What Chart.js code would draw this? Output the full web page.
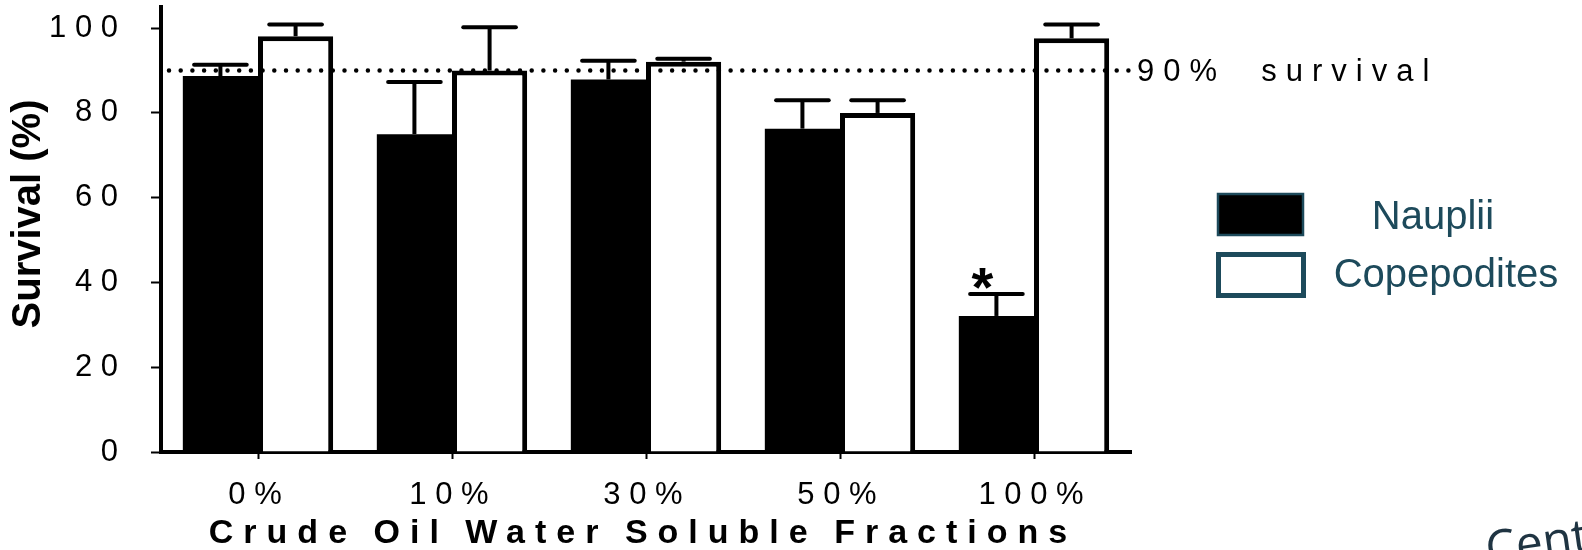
<!DOCTYPE html>
<html>
<head>
<meta charset="utf-8">
<script src="https://cdn.jsdelivr.net/npm/chart.js@4.4.0/dist/chart.umd.min.js"></script>
<style>
  html, body { margin: 0; padding: 0; background: #fff; }
  #wrap { width: 1582px; height: 550px; position: relative; }
</style>
</head>
<body>
<div id="wrap"><canvas id="chart"></canvas></div>
<script>
// ===== DATA =====
const categories = ['0 %', '1 0 %', '3 0 %', '5 0 %', '1 0 0 %'];
const nauplii = [88.7, 75, 87.9, 76.3, 32.1];
const naupliiErr = [2.7, 12.3, 4.4, 6.7, 5.2];
const copepodites = [98.1, 90, 92.1, 80, 97.6];
const copepoditesErr = [2.8, 10.2, 0.7, 3, 3.3];
const naupliiSignificant = [false, false, false, false, true];
const yTicks = [0, 20, 40, 60, 80, 100];
const yTickLabels = ['0', '2 0', '4 0', '6 0', '8 0', '1 0 0'];
const survivalLine = 90;

const FONT = '"Liberation Sans", Arial, Helvetica, sans-serif';
const legendTeal = '#1d4a5b';

// ===== ERROR BARS, 90% LINE, ASTERISK =====
const errorBars = {
  id: 'errorBars',
  afterDatasetsDraw(chart) {
    const ctx = chart.ctx;
    const y = chart.scales.y;
    const errs = [naupliiErr, copepoditesErr];
    ctx.save();
    ctx.strokeStyle = '#000';
    ctx.lineWidth = 4;
    chart.data.datasets.forEach((ds, i) => {
      chart.getDatasetMeta(i).data.forEach((bar, j) => {
        const top = y.getPixelForValue(ds.data[j] + errs[i][j]);
        const half = bar.width * 0.35;
        ctx.lineCap = 'butt';
        ctx.beginPath();
        ctx.moveTo(bar.x, bar.y);
        ctx.lineTo(bar.x, top);
        ctx.stroke();
        ctx.lineCap = 'round';
        ctx.beginPath();
        ctx.moveTo(bar.x - half, top);
        ctx.lineTo(bar.x + half, top);
        ctx.stroke();
      });
    });

    // dotted 90% survival line
    const ly = y.getPixelForValue(survivalLine);
    ctx.setLineDash([0, 11.7]);
    ctx.lineCap = 'round';
    ctx.lineWidth = 4.5;
    ctx.beginPath();
    ctx.moveTo(chart.chartArea.left + 8, ly);
    ctx.lineTo(chart.chartArea.right + 5, ly);
    ctx.stroke();
    ctx.setLineDash([]);

    // significance marks
    const meta = chart.getDatasetMeta(0);
    ctx.fillStyle = '#000';
    ctx.font = 'bold 56px ' + FONT;
    ctx.textAlign = 'center';
    ctx.textBaseline = 'middle';
    naupliiSignificant.forEach((s, j) => {
      if (!s) return;
      const bar = meta.data[j];
      const top = y.getPixelForValue(nauplii[j] + naupliiErr[j]);
      ctx.fillText('*', bar.x - 14, top - 3);
    });
    ctx.restore();
  }
};

// ===== TITLES, LABEL, LEGEND =====
const annotations = {
  id: 'annotations',
  afterDraw(chart) {
    const ctx = chart.ctx;
    ctx.save();
    ctx.fillStyle = '#000';

    // y title
    ctx.save();
    ctx.translate(29, 214);
    ctx.rotate(-Math.PI / 2);
    ctx.font = 'bold 40px ' + FONT;
    ctx.textAlign = 'center';
    ctx.textBaseline = 'middle';
    ctx.fillText('Survival (%)', 0, 0);
    ctx.restore();

    // x title
    ctx.font = 'bold 34px ' + FONT;
    ctx.letterSpacing = '10px';
    ctx.wordSpacing = '-3px';
    ctx.textAlign = 'center';
    ctx.textBaseline = 'middle';
    ctx.fillText('Crude Oil Water Soluble Fractions', 643, 534);

    // 90% survival label
    ctx.font = '31px ' + FONT;
    ctx.letterSpacing = '9px';
    ctx.wordSpacing = '0px';
    ctx.textAlign = 'left';
    ctx.fillText('90%  survival', 1137, 72);
    ctx.letterSpacing = '0px';

    // legend
    const items = chart.data.datasets;
    ctx.lineWidth = 2.5;
    ctx.strokeStyle = legendTeal;
    ctx.fillStyle = items[0].backgroundColor;
    ctx.fillRect(1218, 194, 85, 41);
    ctx.strokeRect(1218, 194, 85, 41);
    ctx.lineWidth = 5;
    ctx.fillStyle = items[1].backgroundColor;
    ctx.fillRect(1218.5, 254.5, 85, 41);
    ctx.strokeRect(1218.5, 254.5, 85, 41);

    ctx.fillStyle = legendTeal;
    ctx.font = '40px ' + FONT;
    ctx.textAlign = 'center';
    ctx.textBaseline = 'alphabetic';
    ctx.fillText(items[0].label, 1433, 229);
    ctx.fillText(items[1].label, 1446, 287);

    // cut-off caption fragment at the corner
    ctx.save();
    ctx.translate(1488, 566);
    ctx.rotate(-0.14);
    ctx.font = '48px "Open Sans", sans-serif';
    ctx.fillStyle = '#1f3442';
    ctx.textAlign = 'left';
    ctx.textBaseline = 'alphabetic';
    ctx.fillText('Centre', 0, 0);
    ctx.restore();

    ctx.restore();
  }
};

// ===== CHART =====
new Chart(document.getElementById('chart'), {
  type: 'bar',
  data: {
    labels: categories,
    datasets: [
      { label: 'Nauplii', data: nauplii, backgroundColor: '#000', borderColor: '#000', borderWidth: 0 },
      { label: 'Copepodites', data: copepodites, backgroundColor: '#fff', borderColor: '#000', borderWidth: 5 }
    ]
  },
  options: {
    responsive: true,
    maintainAspectRatio: false,
    animation: false,
    events: [],
    layout: { padding: { top: 7, right: 451, left: 0, bottom: 0 } },
    datasets: { bar: { categoryPercentage: 0.775, barPercentage: 1 } },
    plugins: { legend: { display: false }, tooltip: { enabled: false } },
    scales: {
      x: {
        z: 1,
        grid: { display: true, offset: false, drawOnChartArea: false, drawTicks: true, tickLength: 7, tickWidth: 2, tickColor: '#000' },
        border: { display: true, width: 4, color: '#000' },
        ticks: { color: '#000', font: { family: FONT, size: 31 }, padding: 18, labelOffset: -3, maxRotation: 0, autoSkip: false },
        afterFit: s => { s.height = 98; s.paddingLeft = 0; s.paddingRight = 0; }
      },
      y: {
        z: 1,
        min: 0,
        max: 105,
        afterBuildTicks: s => { s.ticks = yTicks.map(v => ({ value: v })); },
        grid: { display: true, drawOnChartArea: false, drawTicks: true, tickLength: 10, tickWidth: 2, tickColor: '#000' },
        border: { display: true, width: 4, color: '#000' },
        ticks: { color: '#000', font: { family: FONT, size: 31 }, padding: 33, callback: (v, i) => yTickLabels[i] },
        afterFit: s => { s.width = 161; s.paddingTop = 0; s.paddingBottom = 0; }
      }
    }
  },
  plugins: [errorBars, annotations]
});
</script>
</body>
</html>
